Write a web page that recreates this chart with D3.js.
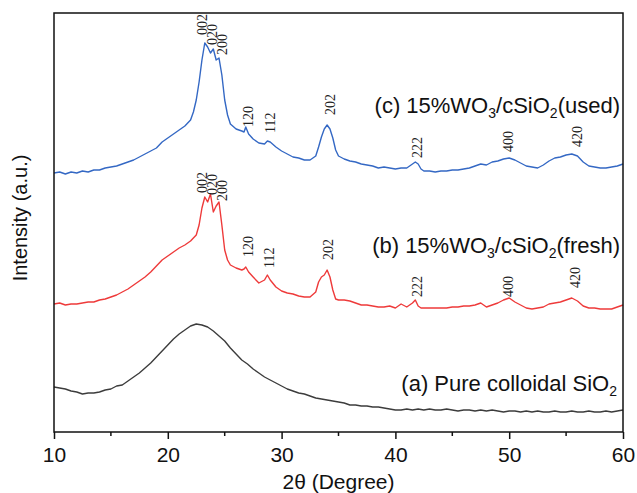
<!DOCTYPE html>
<html>
<head>
<meta charset="utf-8">
<script src="https://cdn.jsdelivr.net/npm/d3@7"></script>
<style>
  html, body { margin: 0; padding: 0; background: #fff; }
  svg { display: block; }
</style>
</head>
<body>
<svg id="chart" width="637" height="493"></svg>
<script>
// 2θ grid (degrees), sampled every 0.5° with finer steps around the main reflections
const angleA = d3.range(10, 60.001, 0.5);
const angleBC = [
  10, 10.5, 11, 11.5, 12, 12.5, 13, 13.5, 14, 14.5, 15, 15.5, 16, 16.5, 17, 17.5, 18, 18.5, 19, 19.5,
  20, 20.5, 21, 21.5, 22, 22.25, 22.5, 22.75, 23, 23.25, 23.5, 23.75, 24, 24.25, 24.5, 24.75, 25, 25.25, 25.5,
  26, 26.5, 26.7, 26.85, 27.1, 27.5, 28, 28.5, 28.75, 29, 29.5, 30, 30.5, 31, 31.5, 32, 32.5,
  33, 33.25, 33.5, 33.75, 34, 34.25, 34.5, 34.75, 35, 35.5, 36, 36.5, 37, 37.5, 38, 38.5, 39, 39.5,
  40, 40.5, 41, 41.5, 41.75, 42, 42.25, 42.5, 43, 43.5, 44, 44.5, 45, 45.5, 46, 46.5, 47, 47.5,
  48, 48.5, 49, 49.5, 50, 50.5, 51, 51.5, 52, 52.5, 53, 53.5, 54, 54.5, 55, 55.5, 56, 56.5,
  57, 57.5, 58, 58.5, 59, 59.5, 60
];

// (a) pure colloidal SiO2 — intensity (a.u., offset trace)
const intensityA = [
  45, 44, 43, 41, 40, 38, 39, 39, 40, 42, 43, 46, 47, 51, 55, 59, 64, 69, 75, 81,
  87, 93, 98, 102, 106, 108, 107, 105, 101, 96, 91, 84, 78, 72, 68, 63, 59, 55, 52, 49,
  46, 43, 41, 39, 38, 36, 34, 33, 32, 31, 30, 29, 27, 27, 26, 26, 25, 25, 24, 23,
  22, 22, 23, 22, 23, 22, 23, 22, 22, 23, 22, 21, 22, 22, 21, 22, 21, 22, 21, 20,
  21, 21, 20, 21, 20, 21, 20, 20, 21, 20, 20, 21, 20, 20, 21, 20, 20, 21, 20, 21, 22
];

// (b) 15%WO3/cSiO2, fresh
const intensityB = [
  128, 129, 127, 128, 128, 129, 130, 130, 132, 133, 135, 137, 140, 143, 147, 151, 155, 160, 166, 172,
  176, 180, 184, 187, 191, 194, 197, 207, 224, 235, 230, 238, 220, 226, 230, 207, 182, 172, 167,
  164, 162, 163, 165, 160, 155, 149, 152, 157, 152, 145, 141, 139, 138, 136, 135, 135,
  140, 150, 155, 157, 162, 155, 142, 133, 132, 132, 131, 129, 127, 127, 126, 125, 125, 126,
  124, 128, 125, 129, 132, 126, 124, 124, 124, 124, 124, 124, 125, 125, 126, 126, 127, 129,
  125, 127, 129, 132, 134, 130, 127, 124, 123, 124, 125, 128, 129, 130, 132, 134, 131, 126,
  124, 124, 123, 123, 123, 125, 127
];

// (c) 15%WO3/cSiO2, used
const intensityC = [
  259, 260, 258, 260, 259, 261, 260, 262, 262, 264, 265, 266, 268, 270, 272, 275, 278, 281, 284, 290,
  294, 298, 302, 306, 312, 320, 332, 350, 372, 389, 385, 379, 383, 372, 374, 357, 332, 317, 308,
  303, 301, 300, 305, 298, 293, 289, 288, 291, 290, 285, 281, 278, 275, 274, 272, 272,
  276, 285, 295, 303, 307, 303, 294, 282, 276, 273, 271, 270, 268, 267, 266, 264, 265, 264,
  263, 264, 264, 268, 270, 268, 263, 261, 261, 260, 261, 261, 262, 262, 263, 264, 266, 268,
  267, 270, 271, 273, 274, 272, 269, 266, 265, 264, 267, 271, 274, 275, 277, 278, 276, 270,
  266, 265, 264, 264, 265, 266, 268
];

// Reflection labels (hkl) with their 2θ position and label height (a.u.)
const hklLabels = ["002", "020", "200", "120", "112", "202", "222", "400", "420"];
const hklAngleC = [23.0, 23.9, 24.8, 27.05, 29.0, 34.25, 41.9, 49.9, 55.95];
const hklHeightC = [397, 387, 377, 305, 299, 317, 274, 280, 285];
const hklAngleB = [23.0, 23.9, 24.8, 27.05, 28.9, 34.1, 41.9, 49.9, 55.8];
const hklHeightB = [239, 237, 231, 175, 164, 172, 135, 135, 144];

const xTicks = [10, 20, 30, 40, 50, 60];
const xMinorTicks = [15, 25, 35, 45, 55];

const svg = d3.select("#chart");
const margin = { left: 54, right: 14, top: 13, bottom: 61 };
const W = 637, H = 493;
const x = d3.scaleLinear().domain([10, 60]).range([margin.left, W - margin.right]);
const y = d3.scaleLinear().domain([0, 419]).range([H - margin.bottom, margin.top]);

const sans = "'Liberation Sans', Arial, sans-serif";
const serif = "'Liberation Serif', 'Times New Roman', serif";

const line = d3.line().x(d => x(d[0])).y(d => y(d[1]));

const series = [
  { ang: angleA, val: intensityA, color: "#3c3c3c" },
  { ang: angleBC, val: intensityB, color: "#ee3a3a" },
  { ang: angleBC, val: intensityC, color: "#3468c4" }
];
series.forEach(s => {
  svg.append("path")
    .datum(s.ang.map((a, i) => [a, s.val[i]]))
    .attr("d", line)
    .attr("fill", "none")
    .attr("stroke", s.color)
    .attr("stroke-width", 1.4)
    .attr("stroke-linejoin", "round");
});

// hkl labels, rotated to read upward
function drawHkl(angles, heights) {
  hklLabels.forEach((t, i) => {
    const px = x(angles[i]), py = y(heights[i]);
    svg.append("text")
      .attr("transform", `translate(${px},${py}) rotate(-90)`)
      .attr("dy", "0.35em")
      .attr("font-family", serif)
      .attr("font-size", 14)
      .attr("fill", "#222")
      .text(t);
  });
}
drawHkl(hklAngleC, hklHeightC);
drawHkl(hklAngleB, hklHeightB);

// Sample names with subscripts
function sampleLabel(parts, xPos, yBase) {
  const t = svg.append("text")
    .attr("x", xPos).attr("y", yBase)
    .attr("text-anchor", "end")
    .attr("font-family", sans)
    .attr("font-size", 22)
    .attr("fill", "#111");
  let shift = 0;
  parts.forEach(p => {
    const span = t.append("tspan").text(p.s);
    if (p.sub) {
      span.attr("font-size", 14).attr("dy", 5);
      shift = -5;
    } else if (shift) {
      span.attr("dy", shift);
      shift = 0;
    }
  });
}
sampleLabel([{ s: "(c) 15%WO" }, { s: "3", sub: true }, { s: "/cSiO" }, { s: "2", sub: true }, { s: "(used)" }], 620, 113);
sampleLabel([{ s: "(b) 15%WO" }, { s: "3", sub: true }, { s: "/cSiO" }, { s: "2", sub: true }, { s: "(fresh)" }], 620, 253);
sampleLabel([{ s: "(a) Pure colloidal SiO" }, { s: "2", sub: true }], 617, 391);

// Frame
svg.append("rect")
  .attr("x", margin.left).attr("y", margin.top)
  .attr("width", W - margin.left - margin.right)
  .attr("height", H - margin.top - margin.bottom)
  .attr("fill", "none").attr("stroke", "#111").attr("stroke-width", 1.5);

// Bottom axis
const axisG = svg.append("g").attr("transform", `translate(0,${H - margin.bottom})`);
axisG.call(d3.axisBottom(x).tickValues(xTicks).tickSize(7).tickFormat(d3.format("d")))
  .call(g => g.select(".domain").remove())
  .call(g => g.selectAll("line").attr("stroke", "#111").attr("stroke-width", 1.5))
  .call(g => g.selectAll("text").attr("font-family", sans).attr("font-size", 21).attr("fill", "#111").attr("dy", "0.95em"));
axisG.selectAll(".minor").data(xMinorTicks).join("line")
  .attr("x1", d => x(d)).attr("x2", d => x(d))
  .attr("y1", 0).attr("y2", 4)
  .attr("stroke", "#111").attr("stroke-width", 1.5);

// Axis titles
svg.append("text")
  .attr("x", (margin.left + W - margin.right) / 2).attr("y", 489)
  .attr("text-anchor", "middle")
  .attr("font-family", sans).attr("font-size", 21).attr("fill", "#111")
  .text("2θ (Degree)");
svg.append("text")
  .attr("transform", `translate(27,218) rotate(-90)`)
  .attr("text-anchor", "middle")
  .attr("font-family", sans).attr("font-size", 20).attr("fill", "#111")
  .text("Intensity (a.u.)");
</script>
</body>
</html>
